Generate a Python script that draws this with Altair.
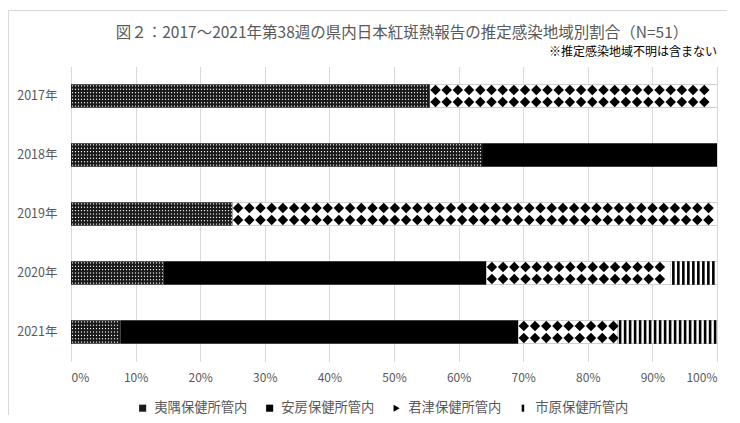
import altair as alt
import pandas as pd

# ---------------- data ----------------
years = ["2017年", "2018年", "2019年", "2020年", "2021年"]
areas = ["夷隅保健所管内", "安房保健所管内", "君津保健所管内", "市原保健所管内"]
isumi = [5, 7, 1, 2, 1]
awa = [0, 4, 0, 7, 8]
kimitsu = [4, 0, 3, 4, 2]
ichihara = [0, 0, 0, 1, 2]
x_ticks = [i / 10 for i in range(11)]

title_text = "図２：2017～2021年第38週の県内日本紅斑熱報告の推定感染地域別割合（N=51）"
note_text = "※推定感染地域不明は含まない"

# ---------------- layout / style ----------------
FONT = "Noto Sans CJK JP"
TXT = "#595959"
GRID = "#d9d9d9"
W, H = 646, 295
BAND = H / 5 * 0.4

# ---------------- build tables ----------------
rows = []
for yi, yr in enumerate(years):
    counts = [isumi[yi], awa[yi], kimitsu[yi], ichihara[yi]]
    total = sum(counts)
    cum = 0
    for ai, a in enumerate(areas):
        c = counts[ai]
        rows.append(dict(year=yr, area=a, n=c, ai=ai,
                         x0=cum / total, x1=(cum + c) / total))
        cum += c
df = pd.DataFrame(rows)


def fill_points(area_idx, step_px, nrows, field, end_frac):
    out = []
    step = step_px / W
    for r in rows:
        if r["ai"] != area_idx or r["n"] == 0:
            continue
        x = r["x0"] + step / 2
        while x < r["x1"] - step * end_frac:
            for k in range(nrows):
                out.append({"year": r["year"], "px": x, field: k})
            x += step
    return pd.DataFrame(out)


dots = fill_points(0, 3.0, 7, "r", 0.25)      # dotted texture of 夷隅
diam = fill_points(2, 11.2, 2, "rr", 0.2)     # diamond texture of 君津
stripes = fill_points(3, 5.0, 1, "s", 0.25)   # vertical stripes of 市原

ysc = alt.Scale(paddingInner=0.6, paddingOuter=0.3)
xsc = alt.Scale(domain=[0, 1], nice=False)
offsc = alt.Scale(type="point", padding=0.5)

legend_shapes = ["square", "square", "triangle-right", "M-0.55,-1H0.15V1H-0.55Z"]
legend_fills = ["#1a1a1a", "#000000", "#000000", "#000000"]

leg = alt.Legend(
    title=None, orient="none", legendX=65, legendY=335,
    direction="horizontal", columns=4, columnPadding=15,
    labelFontSize=13.3, labelColor=TXT, labelFont=FONT,
    symbolSize=50, symbolStrokeWidth=0, labelOffset=5, padding=0,
)
color_enc = alt.Color("area:N", scale=alt.Scale(domain=areas, range=legend_fills),
                      legend=leg)
y_enc = alt.Y("year:N", sort=years, scale=ysc,
              axis=alt.Axis(title=None, domain=False, ticks=False,
                            labelPadding=14, labelFontSize=12.5))

bars = alt.Chart(df).mark_bar().encode(
    x=alt.X("x0:Q", scale=xsc,
            axis=alt.Axis(values=x_ticks, format=".0%", title=None, grid=True,
                          gridColor=GRID, domain=False, ticks=False,
                          labelPadding=11, labelFontSize=12)),
    x2="x1:Q",
    y=y_enc,
    color=color_enc,
    tooltip=["year:N", "area:N", "n:Q"],
)

# white ground for the patterned segments (君津, 市原)
white_bars = alt.Chart(df).transform_filter("datum.ai >= 2").mark_bar(
    color="white").encode(
    x=alt.X("x0:Q", scale=xsc), x2="x1:Q",
    y=alt.Y("year:N", sort=years, scale=ysc),
)

# invisible points carrying the legend symbol shapes
legend_pts = alt.Chart(df).mark_point(size=0, filled=True, opacity=1).encode(
    x=alt.X("x0:Q", scale=xsc),
    y=alt.Y("year:N", sort=years, scale=ysc),
    color=color_enc,
    shape=alt.Shape("area:N", scale=alt.Scale(domain=areas, range=legend_shapes),
                    legend=leg),
)

dot_layer = alt.Chart(dots).mark_square(size=1.3, color="white", opacity=1,
                                        strokeWidth=0).encode(
    x=alt.X("px:Q", scale=xsc),
    y=alt.Y("year:N", sort=years, scale=ysc),
    yOffset=alt.YOffset("r:N", scale=offsc),
)

diam_layer = alt.Chart(diam).mark_point(shape="diamond", filled=True, size=110,
                                        color="black", opacity=1,
                                        strokeWidth=0).encode(
    x=alt.X("px:Q", scale=xsc),
    y=alt.Y("year:N", sort=years, scale=ysc),
    yOffset=alt.YOffset("rr:N", scale=offsc),
)

stripe_layer = alt.Chart(stripes).mark_tick(orient="vertical", size=BAND,
                                            thickness=2.6, color="black",
                                            opacity=1).encode(
    x=alt.X("px:Q", scale=xsc),
    y=alt.Y("year:N", sort=years, scale=ysc),
)

title = alt.Chart(alt.Data(values=[{"t": title_text}])).mark_text(
    align="center", baseline="middle", font=FONT, fontSize=15.5, color=TXT
).encode(x=alt.value(W / 2 + 8), y=alt.value(-33.5), text="t:N")

note = alt.Chart(alt.Data(values=[{"t": note_text}])).mark_text(
    align="right", baseline="middle", font=FONT, fontSize=12, color="#000000"
).encode(x=alt.value(W), y=alt.value(-14.5), text="t:N")

frame = alt.Chart(alt.Data(values=[{"f": 1}])).mark_rect(
    fillOpacity=0, stroke=GRID, strokeWidth=1
).encode(x=alt.value(-62.5), x2=alt.value(W + 40),
         y=alt.value(-56), y2=alt.value(H + 80))

chart = alt.layer(frame, bars, white_bars, legend_pts, dot_layer, diam_layer,
                  stripe_layer, title, note).resolve_scale(
    yOffset="independent"
).properties(
    width=W, height=H,
    padding={"left": 63, "top": 58.5, "right": 10, "bottom": 53.5},
    autosize=alt.AutoSizeParams(type="none"),
).configure(font=FONT).configure_view(stroke=None).configure_axis(
    labelColor=TXT, labelFont=FONT
)

chart.save("out.html", embed_options={"renderer": "svg", "actions": False})
